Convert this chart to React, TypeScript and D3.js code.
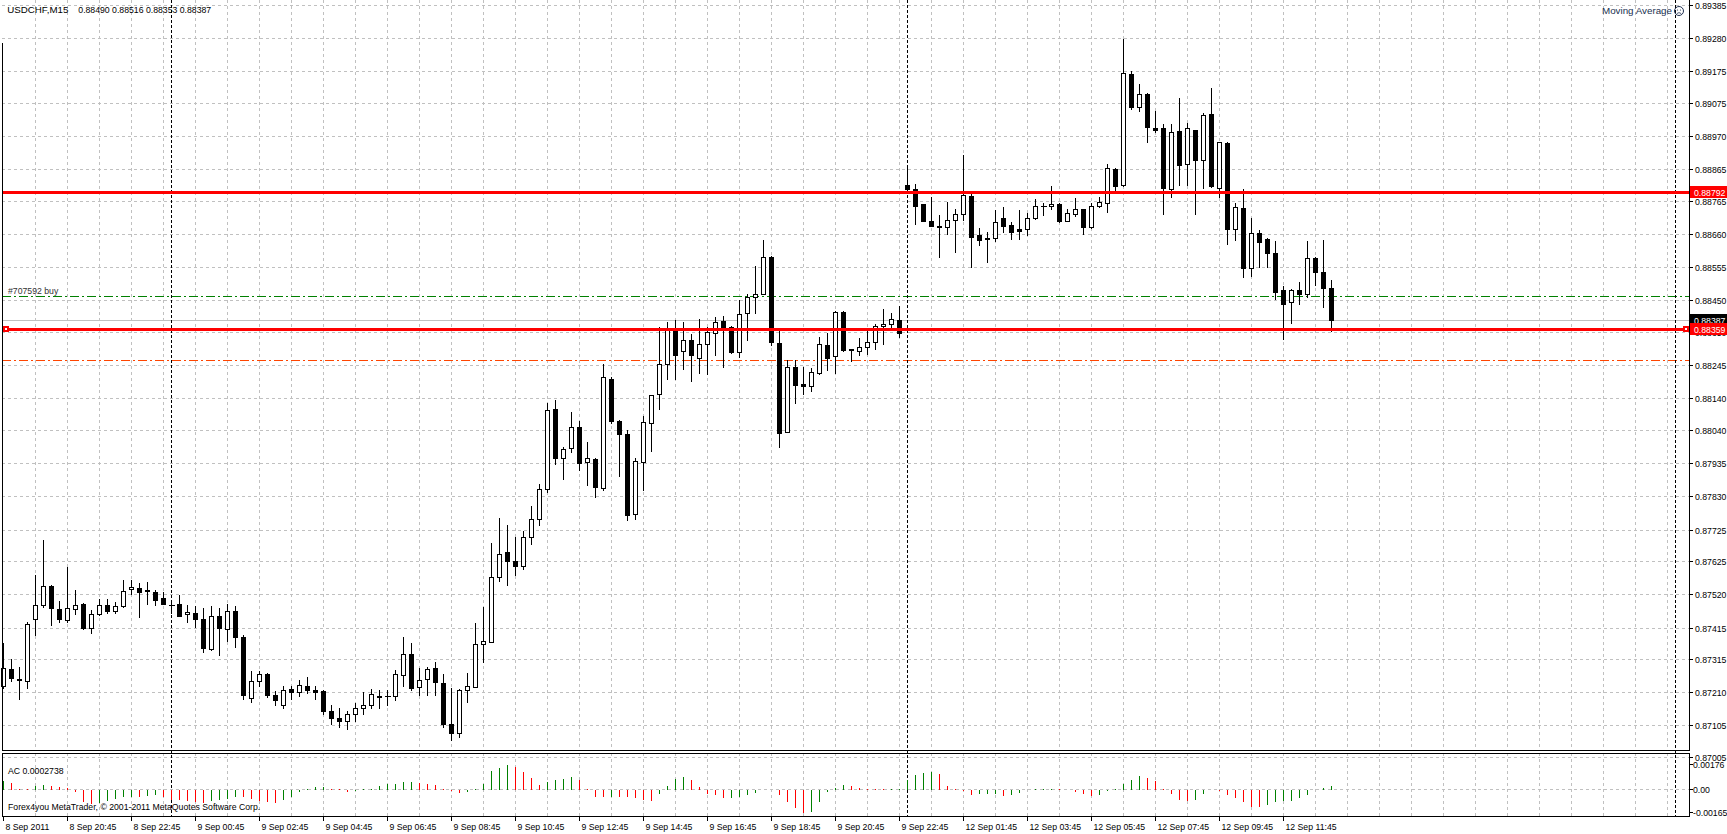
import React from "react";
import * as d3 from "d3";

const headerSymbol = "USDCHF,M15";
const headerPrices = "0.88490 0.88516 0.88353 0.88387";
const indicatorName = "Moving Average";
const acLabel = "AC 0.0002738";
const copyright = "Forex4you MetaTrader, © 2001-2011 MetaQuotes Software Corp.";
const orderLabel = "#707592 buy";

const timeLabels = ["8 Sep 2011","8 Sep 20:45","8 Sep 22:45","9 Sep 00:45","9 Sep 02:45","9 Sep 04:45","9 Sep 06:45","9 Sep 08:45","9 Sep 10:45","9 Sep 12:45","9 Sep 14:45","9 Sep 16:45","9 Sep 18:45","9 Sep 20:45","9 Sep 22:45","12 Sep 01:45","12 Sep 03:45","12 Sep 05:45","12 Sep 07:45","12 Sep 09:45","12 Sep 11:45"];
const priceTicks = [0.89385,0.89280,0.89175,0.89075,0.88970,0.88865,0.88765,0.88660,0.88555,0.88450,0.88350,0.88245,0.88140,0.88040,0.87935,0.87830,0.87725,0.87625,0.87520,0.87415,0.87315,0.87210,0.87105,0.87005];
const daySeparators = [21, 113, 209];

const opens = [0.87231,0.87284,0.87252,0.87246,0.87442,0.87487,0.87547,0.87474,0.87439,0.87474,
0.87490,0.87414,0.87458,0.87487,0.87467,0.87482,0.87537,0.87540,0.87534,0.87528,
0.87509,0.87487,0.87490,0.87458,0.87462,0.87442,0.87346,0.87452,0.87410,0.87468,
0.87386,0.87191,0.87246,0.87267,0.87200,0.87170,0.87220,0.87210,0.87229,0.87217,
0.87214,0.87150,0.87130,0.87120,0.87140,0.87160,0.87170,0.87199,0.87198,0.87197,
0.87264,0.87331,0.87226,0.87252,0.87286,0.87239,0.87110,0.87080,0.87216,0.87228,
0.87362,0.87369,0.87574,0.87653,0.87627,0.87610,0.87700,0.87760,0.87852,0.88105,
0.87950,0.87982,0.88051,0.87938,0.87947,0.87858,0.88203,0.88070,0.88026,0.87775,
0.87940,0.88061,0.88155,0.88248,0.88358,0.88289,0.88324,0.88267,0.88311,0.88346,
0.88384,0.88365,0.88286,0.88409,0.88460,0.88472,0.88589,0.88314,0.88035,0.88241,
0.88185,0.88178,0.88222,0.88308,0.88273,0.88415,0.88296,0.88289,0.88304,0.88320,
0.88368,0.88374,0.88387,0.88814,0.88803,0.88754,0.88703,0.88687,0.88683,0.88705,
0.88725,0.88782,0.88656,0.88643,0.88649,0.88710,0.88688,0.88676,0.88676,0.88710,
0.88750,0.88749,0.88755,0.88701,0.88723,0.88739,0.88682,0.88748,0.88758,0.88865,
0.88815,0.89166,0.89061,0.89103,0.88996,0.88995,0.88802,0.88986,0.88881,0.88989,
0.88896,0.89040,0.88805,0.88948,0.88675,0.88742,0.88554,0.88663,0.88644,0.88600,
0.88482,0.88444,0.88483,0.88472,0.88584,0.88540,0.88490];
const highs = [0.87366,0.87316,0.87290,0.87431,0.87582,0.87693,0.87550,0.87500,0.87608,0.87534,
0.87494,0.87472,0.87506,0.87506,0.87497,0.87564,0.87564,0.87556,0.87559,0.87534,
0.87528,0.87500,0.87519,0.87487,0.87484,0.87476,0.87484,0.87476,0.87490,0.87484,
0.87390,0.87278,0.87278,0.87270,0.87215,0.87229,0.87229,0.87249,0.87260,0.87230,
0.87216,0.87170,0.87160,0.87150,0.87175,0.87211,0.87221,0.87218,0.87216,0.87281,
0.87385,0.87366,0.87286,0.87289,0.87306,0.87267,0.87223,0.87220,0.87270,0.87429,
0.87480,0.87683,0.87762,0.87740,0.87700,0.87720,0.87800,0.87869,0.88127,0.88134,
0.87985,0.88097,0.88070,0.88002,0.87950,0.88248,0.88209,0.88072,0.88039,0.87952,
0.88083,0.88152,0.88366,0.88382,0.88388,0.88381,0.88343,0.88391,0.88365,0.88397,
0.88401,0.88368,0.88450,0.88472,0.88558,0.88640,0.88592,0.88352,0.88261,0.88263,
0.88238,0.88236,0.88333,0.88346,0.88418,0.88418,0.88298,0.88330,0.88355,0.88377,
0.88423,0.88410,0.88434,0.88880,0.88817,0.88756,0.88778,0.88721,0.88761,0.88739,
0.88910,0.88795,0.88678,0.88668,0.88735,0.88745,0.88699,0.88737,0.88727,0.88772,
0.88757,0.88811,0.88760,0.88739,0.88775,0.88740,0.88760,0.88778,0.88882,0.88869,
0.89278,0.89176,0.89134,0.89105,0.89049,0.89008,0.89008,0.89091,0.89012,0.88991,
0.89044,0.89122,0.88953,0.88950,0.88759,0.88802,0.88710,0.88672,0.88647,0.88638,
0.88497,0.88486,0.88510,0.88637,0.88586,0.88640,0.88516];
const lows = [0.87225,0.87245,0.87189,0.87224,0.87392,0.87480,0.87422,0.87432,0.87434,0.87459,
0.87410,0.87397,0.87455,0.87460,0.87460,0.87479,0.87521,0.87449,0.87489,0.87486,
0.87488,0.87460,0.87451,0.87432,0.87416,0.87339,0.87343,0.87327,0.87371,0.87353,
0.87190,0.87180,0.87230,0.87195,0.87170,0.87160,0.87190,0.87197,0.87207,0.87190,
0.87140,0.87110,0.87100,0.87095,0.87120,0.87140,0.87160,0.87160,0.87170,0.87185,
0.87231,0.87218,0.87200,0.87200,0.87200,0.87100,0.87060,0.87070,0.87180,0.87228,
0.87307,0.87369,0.87561,0.87551,0.87580,0.87600,0.87680,0.87740,0.87845,0.87932,
0.87884,0.87971,0.87915,0.87866,0.87829,0.87850,0.88063,0.87894,0.87755,0.87760,
0.87850,0.87973,0.88106,0.88201,0.88201,0.88234,0.88196,0.88221,0.88218,0.88279,
0.88238,0.88283,0.88270,0.88324,0.88409,0.88472,0.88309,0.87985,0.88035,0.88126,
0.88155,0.88162,0.88216,0.88229,0.88222,0.88289,0.88257,0.88279,0.88282,0.88297,
0.88311,0.88358,0.88333,0.88800,0.88693,0.88700,0.88685,0.88588,0.88661,0.88604,
0.88705,0.88557,0.88625,0.88572,0.88637,0.88666,0.88643,0.88646,0.88656,0.88707,
0.88720,0.88739,0.88697,0.88700,0.88718,0.88660,0.88680,0.88746,0.88730,0.88792,
0.88812,0.89055,0.89049,0.88953,0.88983,0.88724,0.88779,0.88814,0.88814,0.88724,
0.88807,0.88808,0.88779,0.88628,0.88640,0.88523,0.88529,0.88555,0.88555,0.88454,
0.88328,0.88378,0.88440,0.88462,0.88499,0.88428,0.88353];
const closes = [0.87287,0.87256,0.87248,0.87427,0.87487,0.87547,0.87476,0.87441,0.87477,0.87487,
0.87413,0.87458,0.87487,0.87467,0.87484,0.87531,0.87544,0.87528,0.87531,0.87502,
0.87490,0.87487,0.87451,0.87465,0.87441,0.87350,0.87452,0.87414,0.87468,0.87384,
0.87200,0.87246,0.87269,0.87200,0.87185,0.87216,0.87210,0.87233,0.87216,0.87212,
0.87150,0.87130,0.87120,0.87140,0.87160,0.87170,0.87205,0.87194,0.87198,0.87267,
0.87331,0.87225,0.87248,0.87283,0.87242,0.87110,0.87080,0.87217,0.87229,0.87362,
0.87372,0.87574,0.87647,0.87627,0.87610,0.87700,0.87760,0.87852,0.88102,0.87952,
0.87979,0.88051,0.87937,0.87950,0.87861,0.88207,0.88069,0.88028,0.87770,0.87941,
0.88064,0.88150,0.88248,0.88358,0.88279,0.88324,0.88279,0.88311,0.88349,0.88381,
0.88361,0.88286,0.88406,0.88460,0.88472,0.88589,0.88317,0.88032,0.88241,0.88183,
0.88180,0.88225,0.88311,0.88269,0.88415,0.88294,0.88292,0.88304,0.88320,0.88368,
0.88374,0.88390,0.88346,0.88803,0.88750,0.88702,0.88686,0.88683,0.88706,0.88725,
0.88785,0.88651,0.88642,0.88649,0.88697,0.88687,0.88668,0.88671,0.88710,0.88748,
0.88750,0.88756,0.88700,0.88726,0.88739,0.88682,0.88748,0.88761,0.88869,0.88812,
0.89169,0.89061,0.89103,0.89000,0.88991,0.88807,0.88983,0.88879,0.88995,0.88896,
0.89036,0.88811,0.88951,0.88675,0.88745,0.88554,0.88663,0.88634,0.88600,0.88478,
0.88440,0.88482,0.88472,0.88584,0.88539,0.88491,0.88387];

const acValues = [0.00062,0.00048,0.00007,0.00005,0.00029,0.00033,0.00024,0.00019,0.00012,-0.00014,
-0.00090,-0.00100,-0.00095,-0.00083,-0.00067,-0.00052,-0.00048,-0.00052,-0.00043,-0.00040,
-0.00052,-0.00071,-0.00076,-0.00081,-0.00090,-0.00095,-0.00083,-0.00071,-0.00067,-0.00048,
-0.00052,-0.00067,-0.00083,-0.00090,-0.00095,-0.00071,-0.00048,-0.00019,0.00005,0.00019,
0.00021,0.00005,0.00002,-0.00014,-0.00010,0.00002,0.00007,0.00029,0.00038,0.00043,
0.00052,0.00055,0.00048,0.00038,0.00031,0.00005,-0.00012,-0.00024,-0.00019,0.00005,
0.00043,0.00131,0.00152,0.00176,0.00159,0.00124,0.00083,0.00036,0.00057,0.00071,
0.00074,0.00090,0.00071,0.00005,-0.00048,-0.00052,-0.00048,-0.00050,-0.00052,-0.00057,
-0.00071,-0.00083,-0.00031,0.00024,0.00076,0.00090,0.00067,0.00019,-0.00029,-0.00036,
-0.00060,-0.00057,-0.00052,-0.00038,-0.00024,0.00000,-0.00005,-0.00038,-0.00090,-0.00131,
-0.00165,-0.00155,-0.00090,-0.00019,0.00012,0.00031,0.00024,0.00010,0.00007,0.00005,
0.00002,0.00005,0.00007,0.00067,0.00107,0.00119,0.00126,0.00114,0.00024,0.00005,
-0.00012,-0.00036,-0.00033,-0.00031,-0.00029,-0.00043,-0.00036,-0.00024,-0.00005,0.00002,
0.00005,0.00007,0.00002,-0.00005,-0.00019,-0.00029,-0.00043,-0.00036,-0.00012,0.00005,
0.00038,0.00071,0.00095,0.00083,0.00060,0.00005,-0.00029,-0.00071,-0.00083,-0.00071,
-0.00029,-0.00005,-0.00012,-0.00036,-0.00060,-0.00088,-0.00119,-0.00124,-0.00107,-0.00090,
-0.00083,-0.00079,-0.00060,-0.00036,-0.00002,0.00014,0.00027];
const acTicks = [0.00176, 0.0, -0.00165];
const acTickLabels = ["0.00176", "0.00", "-0.00165"];

const hLines = [0.88792, 0.88359];
const bidPrice = 0.88387;
const tpPrice = 0.88464;
const slPrice = 0.88262;

const W = 1727, H = 834;
const L = 2, R = 1689;
const MAIN_BOTTOM = 750;
const SUB_TOP = 753, SUB_BOTTOM = 816;
const FONT = "'Liberation Sans', Arial, sans-serif";
const FS = 8.7;

export default function App() {
  const x = d3.scaleLinear().domain([0, 1]).range([3.5, 11.5]);
  const y = d3.scaleLinear().domain([0.87005, 0.89385]).range([757.1, 5]);
  const yAc = d3.scaleLinear().domain([-0.00165, 0.00176]).range([812, 764]);
  const px = (v: number) => Math.round(v) + 0.5;
  const nGrid = d3.range(4, 212, 4).filter((i) => x(i) < R);
  const bars = d3.range(opens.length);

  const priceLabel = (price: number, bg: string, key: string) => {
    const yy = Math.round(y(price));
    return (
      <g key={key}>
        <rect x={R + 1} y={yy - 6} width={W - R - 1} height={12} fill={bg} />
        <text x={R + 5} y={yy + 3.5} fill="#fff" fontSize={FS} fontFamily={FONT}>{d3.format(".5f")(price)}</text>
      </g>
    );
  };

  return (
    <svg width={W} height={H} style={{ position: "fixed", left: 0, top: 0, background: "#fff" }} shapeRendering="crispEdges">
      <rect x={0} y={0} width={W} height={H} fill="#fff" />
      {priceTicks.map((p, i) => (
        <line key={"hg" + i} x1={L} x2={R} y1={px(y(p))} y2={px(y(p))} stroke="#c0c0c0" strokeDasharray="3,3" />
      ))}
      {nGrid.map((i) => (
        <g key={"vg" + i}>
          <line x1={x(i)} x2={x(i)} y1={0} y2={MAIN_BOTTOM} stroke="#c0c0c0" strokeDasharray="3,3" />
          <line x1={x(i)} x2={x(i)} y1={SUB_TOP} y2={SUB_BOTTOM} stroke="#c0c0c0" strokeDasharray="3,3" />
        </g>
      ))}
      <line x1={L} x2={R} y1={px(yAc(0))} y2={px(yAc(0))} stroke="#c0c0c0" strokeDasharray="3,3" />

      <line x1={L} x2={R} y1={px(y(tpPrice))} y2={px(y(tpPrice))} stroke="#008000" strokeDasharray="9,3,2,3" />
      <line x1={L} x2={R} y1={px(y(slPrice))} y2={px(y(slPrice))} stroke="#ff4500" strokeDasharray="9,3,2,3" />
      <text x={8} y={Math.round(y(tpPrice)) - 2} fontSize={FS} fontFamily={FONT} fill="#333">{orderLabel}</text>
      <line x1={L} x2={R} y1={px(y(bidPrice))} y2={px(y(bidPrice))} stroke="#c0c0c0" />

      {daySeparators.map((i) => (
        <line key={"sep" + i} x1={x(i)} x2={x(i)} y1={0} y2={SUB_BOTTOM} stroke="#000" strokeDasharray="3,2" />
      ))}

      {bars.map((i) => {
        const o = opens[i], c = closes[i], h = highs[i], l = lows[i];
        const cx = x(i);
        const top = Math.round(y(Math.max(o, c)));
        const bot = Math.round(y(Math.min(o, c)));
        const up = c >= o;
        return (
          <g key={"c" + i}>
            <line x1={cx} x2={cx} y1={Math.round(y(h))} y2={Math.round(y(l)) + 1} stroke="#000" />
            {bot - top < 1 ? (
              <line x1={cx - 2.5} x2={cx + 3.5} y1={top + 0.5} y2={top + 0.5} stroke="#000" />
            ) : (
              <rect x={cx - 2} y={top + 0.5} width={4} height={bot - top} fill={up ? "#fff" : "#000"} stroke="#000" />
            )}
          </g>
        );
      })}

      {hLines.map((p, i) => (
        <line key={"rl" + i} x1={L} x2={R} y1={Math.round(y(p)) + 0.5} y2={Math.round(y(p)) + 0.5} stroke="#ff0000" strokeWidth={3} />
      ))}
      <rect x={L + 1} y={Math.round(y(hLines[1])) - 3} width={6} height={6} fill="#ff0000" />
      <rect x={L + 3} y={Math.round(y(hLines[1])) - 1} width={2} height={2} fill="#fff" />
      <rect x={R - 6} y={Math.round(y(hLines[1])) - 3} width={6} height={6} fill="#ff0000" />
      <rect x={R - 4} y={Math.round(y(hLines[1])) - 1} width={2} height={2} fill="#fff" />

      {acValues.map((v, i) => {
        const prev = i > 0 ? acValues[i - 1] : -Infinity;
        const col = v >= prev ? "#008000" : "#ff0000";
        return <line key={"ac" + i} x1={x(i)} x2={x(i)} y1={Math.round(yAc(0)) + 0.5} y2={Math.round(yAc(v)) + 0.5} stroke={col} />;
      })}

      {/* frames */}
      <line x1={L + 0.5} x2={L + 0.5} y1={43} y2={MAIN_BOTTOM + 0.5} stroke="#000" />
      <line x1={L} x2={R + 1} y1={MAIN_BOTTOM + 0.5} y2={MAIN_BOTTOM + 0.5} stroke="#000" />
      <line x1={R + 0.5} x2={R + 0.5} y1={0} y2={MAIN_BOTTOM + 0.5} stroke="#000" />
      <rect x={L + 0.5} y={SUB_TOP + 0.5} width={R - L} height={SUB_BOTTOM - SUB_TOP} fill="none" stroke="#000" />

      {priceTicks.map((p, i) => {
        const yy = Math.round(y(p));
        return (
          <g key={"pt" + i}>
            <line x1={R} x2={R + 4} y1={yy + 0.5} y2={yy + 0.5} stroke="#000" />
            <text x={R + 6} y={yy + 3.5} fontSize={FS} fontFamily={FONT} fill="#000">{d3.format(".5f")(p)}</text>
          </g>
        );
      })}
      {priceLabel(hLines[0], "#ff0000", "lab0")}
      {priceLabel(bidPrice, "#000000", "labbid")}
      {priceLabel(hLines[1], "#ff0000", "lab1")}

      {acTicks.map((v, i) => {
        const yy = Math.round(yAc(v));
        return (
          <g key={"at" + i}>
            <line x1={R} x2={R + 4} y1={yy + 0.5} y2={yy + 0.5} stroke="#000" />
            <text x={R + 4} y={yy + 3.5} fontSize={FS} fontFamily={FONT} fill="#000">{acTickLabels[i]}</text>
          </g>
        );
      })}

      {timeLabels.map((t, k) => {
        const xx = x(k * 8);
        return (
          <g key={"tl" + k}>
            <line x1={xx} x2={xx} y1={SUB_BOTTOM} y2={SUB_BOTTOM + 5} stroke="#000" />
            <text x={xx + 2} y={830} fontSize={FS} fontFamily={FONT} fill="#000">{t}</text>
          </g>
        );
      })}

      <text x={7.3} y={13} fontSize={FS} fontFamily={FONT} fill="#000" textLength={61} lengthAdjust="spacingAndGlyphs">{headerSymbol}</text>
      <text x={78.3} y={13} fontSize={FS} fontFamily={FONT} fill="#000">{headerPrices}</text>
      <text x={1602} y={14} fontSize={FS} fontFamily={FONT} fill="#203050" textLength={70} lengthAdjust="spacingAndGlyphs">{indicatorName}</text>
      <circle cx={1679} cy={11} r={4.5} fill="none" stroke="#203050" shapeRendering="auto" />
      <circle cx={1677.5} cy={10} r={0.6} fill="#203050" shapeRendering="auto" />
      <circle cx={1680.5} cy={10} r={0.6} fill="#203050" shapeRendering="auto" />
      <path d="M1676.8,13.6 Q1679,11.6 1681.2,13.6" fill="none" stroke="#203050" strokeWidth={0.8} shapeRendering="auto" />
      <text x={8} y={774} fontSize={FS} fontFamily={FONT} fill="#000">{acLabel}</text>
      <text x={8} y={810} fontSize={FS} fontFamily={FONT} fill="#000">{copyright}</text>
    </svg>
  );
}
